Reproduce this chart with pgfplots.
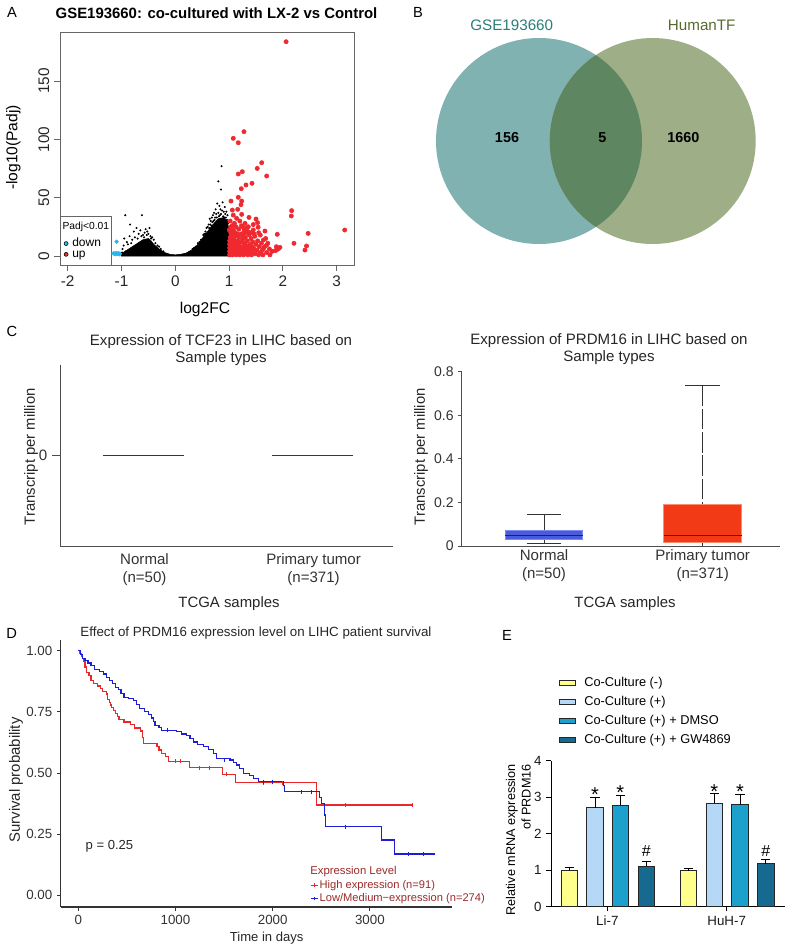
\documentclass[border=0pt]{standalone}
\usepackage{fontspec}
\setmainfont{Liberation Sans}
\usepackage{pgfplots}
\pgfplotsset{compat=1.18}
\newcommand\fsz[2]{\fontsize{#1}{#2}\selectfont}
\definecolor{ared}{HTML}{F0282F}
\definecolor{ablue}{HTML}{29B6E8}
\definecolor{vennL}{HTML}{7FB2B1}
\definecolor{vennR}{HTML}{9EAF88}
\definecolor{vennO}{HTML}{5E8660}
\definecolor{vtxtL}{HTML}{2A7E7A}
\definecolor{vtxtR}{HTML}{56692E}
\definecolor{cnorm}{HTML}{2F3163}
\definecolor{ctum}{HTML}{5A2A2A}
\definecolor{nblue}{HTML}{4A5BDC}
\definecolor{nbedge}{HTML}{7C8BEF}
\definecolor{tred}{HTML}{F23B16}
\definecolor{tredge}{HTML}{FF8C6E}
\definecolor{dred}{HTML}{E8282B}
\definecolor{dblue}{HTML}{1E1ED8}
\definecolor{dlegc}{HTML}{9A2A2A}
\definecolor{eyel}{HTML}{FFFF8C}
\definecolor{elb}{HTML}{B5D8F7}
\definecolor{eteal}{HTML}{1BA1CC}
\definecolor{edark}{HTML}{166A8F}
\pgfplotsset{
 aleg/.style={legend image code/.code={\fill[##1] (2pt,0pt) circle[radius=1.5pt];}},
 dleg/.style={legend image code/.code={\draw[##1] (0pt,0pt)--(5.25pt,0pt); \draw[##1] (2.6pt,-1.4pt)--(2.6pt,1.4pt);}},
 eleg/.style={legend image code/.code={\draw[##1] (0pt,-2.15pt) rectangle (12.5pt,2.15pt);}},
 ebar/.style={ybar, bar width=12.4pt, bar shift=0pt, draw=black!85, line width=0.6pt, forget plot,
  error bars/y dir=plus, error bars/y explicit, error bars/error bar style={line width=0.6pt, black},
  error bars/error mark options={rotate=90, black, mark size=3.4pt, line width=0.6pt}},
}
\begin{document}
\begin{tikzpicture}
\path[use as bounding box] (0pt,0pt) rectangle (589.5pt,-711.75pt);

%%%%%%%%%%%%%%%% PANEL A
\begin{axis}[
 scale only axis, width=220.7pt, height=174.2pt, at={(45pt,-198.75pt)}, anchor=south west,
 xmin=-2.143, xmax=3.327, ymin=-7.7, ymax=191.4,
 xtick={-2,-1,0,1,2,3}, ytick={0,50,100,150},
 tick pos=left, tick align=outside, major tick length=4.5pt,
 axis line style={draw=black!60, line width=0.6pt},
 tick style={draw=black!60, line width=0.6pt},
 tick label style={font=\fsz{11.5}{13}, text=black!85},
 yticklabel style={rotate=90, anchor=south},
 /pgf/number format/assume math mode=true,
 legend style={at={(0.0122,0.1167)}, anchor=north west, draw=none, fill=none, inner sep=0pt,
   font=\fsz{9}{9}, row sep=0pt, /tikz/column sep=2.9pt,
   nodes={inner sep=0pt, text height=6.3pt, text depth=1.8pt}},
 legend cell align=left,
]
\addplot[fill=black, draw=black, line width=0.4pt, forget plot] coordinates {
(-1.0,0) (-1.0,2) (-0.9,5) (-0.8,8) (-0.7,11) (-0.6,14) (-0.5,15) (-0.45,13) (-0.4,10) (-0.3,6)
(-0.2,3) (-0.1,1.5) (0,1) (0.1,1.5) (0.2,2.5) (0.3,5) (0.4,9) (0.5,15) (0.6,21) (0.7,27)
(0.8,32) (0.9,33) (0.97,30) (1.0,20) (1.0,0)} -- cycle;
\addplot[only marks, mark=*, mark size=0.55pt, black, forget plot] coordinates {
(-0.93,35) (-0.62,35) (-0.84,27) (-0.77,21) (-0.72,24) (-0.95,15) (-0.9,12) (-0.85,17) (-0.8,14)
(-0.75,16) (-0.68,19) (-0.65,22) (-0.6,18) (-0.57,20) (-0.55,23) (-0.52,21) (-0.5,19) (-0.48,24)
(-0.46,17) (-0.43,16) (-0.4,14) (-0.37,11) (-0.33,9) (-0.3,8) (-0.27,6) (-0.22,4) (-0.98,6)
(-0.96,9) (-0.88,10) (-0.82,11) (-0.7,15) (-0.63,17) (-0.58,16) (-0.53,18) (-0.45,15) (-0.92,4) (-0.99,3)
(0.86,77) (0.80,64) (0.85,57) (0.78,45) (0.82,43) (0.88,46) (0.92,42) (0.95,38) (0.97,35) (0.75,40)
(0.72,37) (0.7,35) (0.68,33) (0.66,30) (0.64,32) (0.62,27) (0.6,25) (0.58,24) (0.56,21) (0.54,19)
(0.52,18) (0.48,14) (0.45,12) (0.42,11) (0.38,8) (0.35,7) (0.32,6) (0.28,4) (0.25,3) (0.9,38)
(0.93,36) (0.84,40) (0.76,36) (0.74,33) (0.8,37) (0.83,35) (0.87,39) (0.91,33) (0.96,31) (0.98,28)
(0.99,25) (0.79,30) (0.71,30) (0.67,26) (0.63,24) (0.57,19) (0.65,27) (0.69,29) (0.73,31) (0.77,33)
(0.81,34) (0.85,36) (0.89,34) (0.94,33)};
\addplot[only marks, mark=*, mark size=1.4pt, mark options={fill=ablue, draw=ablue}, forget plot] coordinates {
(-1.03,2) (-1.05,2.3) (-1.07,2) (-1.09,2.5) (-1.11,2.2) (-1.13,2) (-1.15,2.3) (-1.04,1.5) (-1.1,1.6) (-1.09,12.3)};
\addplot[only marks, mark=*, mark size=1.6pt, mark options={fill=ared, draw=ared}, forget plot] coordinates {
(2.06,183.7) (1.277,106.6) (1.078,100.9) (1.171,97.1) (1.606,80) (1.524,75.1) (1.699,68.6) (1.246,72.3)
(1.171,70.3) (1.426,62.3) (1.314,60.9) (1.227,57.7) (1.035,47.1) (1.171,50.3) (1.234,47.1) (1.221,44)
(1.06,39.4) (1.16,40) (2.163,38.9) (2.157,34.3) (1.234,35.7) (1.37,33.1) (1.50,31.7) (1.53,28.6)
(1.54,24.7) (1.667,21.4) (1.896,18.6) (2.47,19.4) (3.149,22.3) (2.206,10.9) (2.44,8.6) (2.41,5.1)
(1.946,7.4) (1.90,5.7) (1.86,4.6) (1.92,6.5) (1.88,8) (1.078,35.1) (1.14,32.3) (1.296,28) (1.357,25.1)
(1.45,22.3) (1.636,13.7) (1.699,9.4) (1.64,6.6) (1.004,22.3) (1.04,18) (1.02,30) (1.10,28) (1.2,30)
(1.25,25) (1.3,20) (1.45,27) (1.58,18) (1.75,6) (1.8,4) (1.68,15)
(1.01,1) (1.01,4) (1.01,7) (1.01,10) (1.01,13) (1.02,16) (1.03,2) (1.04,5) (1.04,9) (1.05,12) (1.05,15)
(1.06,1) (1.07,3) (1.07,7) (1.08,10) (1.09,14) (1.09,19) (1.1,2) (1.11,5) (1.11,8) (1.12,12) (1.12,17)
(1.13,1) (1.14,4) (1.15,7) (1.15,10) (1.16,13) (1.17,2) (1.18,5) (1.18,16) (1.19,9) (1.2,1) (1.21,3)
(1.21,12) (1.22,6) (1.23,19) (1.24,2) (1.25,8) (1.25,14) (1.26,4) (1.27,1) (1.28,11) (1.29,6) (1.3,16)
(1.31,2) (1.32,9) (1.33,4) (1.34,13) (1.35,1) (1.36,7) (1.37,18) (1.38,3) (1.39,10) (1.4,5) (1.41,15)
(1.42,1) (1.43,8) (1.44,12) (1.45,3) (1.47,6) (1.48,17) (1.49,2) (1.5,10) (1.52,5) (1.53,13) (1.55,1)
(1.56,8) (1.58,3) (1.6,11) (1.62,5) (1.63,1) (1.66,8) (1.7,3) (1.72,11) (1.76,1) (1.08,22) (1.13,25)
(1.18,23) (1.23,26) (1.28,22) (1.35,21) (1.06,26) (1.11,20) (1.16,19) (1.26,17) (1.32,24) (1.4,20)
(1.46,19) (1.55,20) (1.03,20) (1.03,25)};
\addlegendimage{aleg, fill=ablue}\addlegendentry{down}
\addlegendimage{aleg, fill=ared}\addlegendentry{up}
\draw[black!60, line width=0.5pt] (rel axis cs:0,0) rectangle (rel axis cs:0.1757,0.211);
\node[anchor=west, font=\fsz{7.7}{9}, inner sep=0pt] at (rel axis cs:0.0078,0.1649) {Padj<0.01};
\end{axis}
\node[font=\fsz{11}{13}] at (9pt,-9pt) {A};
\node[font=\bfseries\fsz{11.2}{13}] at (162.4pt,-9.75pt) {GSE193660: co-cultured with LX-2 vs Control};
\node[font=\fsz{11.7}{13}, rotate=90] at (10pt,-110.6pt) {-log10(Padj)};
\node[font=\fsz{11.7}{13}] at (153.75pt,-231.75pt) {log2FC};

%%%%%%%%%%%%%%%% PANEL B
\begin{axis}[scale only axis, width=297pt, height=232.5pt, at={(292.5pt,-232.5pt)}, anchor=south west,
 xmin=390, xmax=786, ymin=0, ymax=310, y dir=reverse, hide axis]
\fill[vennL] (axis cs:539,141) circle[radius=77.25pt];
\fill[vennR] (axis cs:652.7,141) circle[radius=77.25pt];
\begin{scope}
\clip (axis cs:539,141) circle[radius=77.25pt];
\fill[vennO] (axis cs:652.7,141) circle[radius=77.25pt];
\end{scope}
\node[font=\bfseries\fsz{10.8}{12}] at (axis cs:507,138) {156};
\node[font=\bfseries\fsz{10.8}{12}] at (axis cs:602.3,138) {5};
\node[font=\bfseries\fsz{10.8}{12}] at (axis cs:683.3,138) {1660};
\end{axis}
\node[font=\fsz{11}{13}] at (313.5pt,-9pt) {B};
\node[font=\fsz{11.4}{13}, text=vtxtL] at (383.8pt,-18.75pt) {GSE193660};
\node[font=\fsz{11.4}{13}, text=vtxtR] at (526.3pt,-18.75pt) {HumanTF};

%%%%%%%%%%%%%%%% PANEL C left
\begin{axis}[scale only axis, width=249.75pt, height=135.75pt, at={(45pt,-409.5pt)}, anchor=south west,
 xmin=0.5, xmax=2.47, ymin=-1, ymax=1, axis lines=left,
 axis line style={-, draw=black!70, line width=0.7pt},
 xtick={1,2}, xticklabels={{Normal\\(n=50)},{Primary tumor\\(n=371)}},
 xticklabel style={align=center, font=\fsz{11.3}{13.5}, text=black!80, yshift=3.5pt},
 xtick style={draw=none},
 ytick={0}, ytick style={draw=black!70, line width=0.7pt}, tick align=outside, major tick length=6pt,
 yticklabel style={font=\fsz{11.3}{13.5}, text=black!80},
 /pgf/number format/assume math mode=true]
\addplot[draw=cnorm, line width=1pt] coordinates {(0.757,0) (1.234,0)};
\addplot[draw=ctum, line width=1pt] coordinates {(1.754,0) (2.234,0)};
\end{axis}
\node[font=\fsz{11}{13}] at (9pt,-248.25pt) {C};
\node[font=\fsz{11.3}{12.5}, align=center, text=black!85] at (165.75pt,-262.5pt) {Expression of TCF23 in LIHC based on\\Sample types};
\node[font=\fsz{11.1}{13}, rotate=90, text=black!85] at (23.25pt,-342.5pt) {Transcript per million};
\node[font=\fsz{11.2}{13}, text=black!85] at (171.75pt,-452.5pt) {TCGA samples};

%%%%%%%%%%%%%%%% PANEL C right
\begin{axis}[scale only axis, width=238.7pt, height=130.7pt, at={(346.3pt,-409.5pt)}, anchor=south west,
 xmin=0.4814, xmax=2.487, ymin=0, ymax=0.8, axis lines=left,
 axis line style={-, draw=black!70, line width=0.7pt},
 xtick={1,2}, xticklabels={{Normal\\(n=50)},{Primary tumor\\(n=371)}},
 xticklabel style={align=center, font=\fsz{11.3}{13.5}, text=black!80, yshift=3.5pt},
 xtick style={draw=none},
 ytick={0,0.2,0.4,0.6,0.8}, yticklabels={0,0.2,0.4,0.6,0.8},
 ytick style={draw=black!70, line width=0.7pt}, tick align=outside, major tick length=2.6pt,
 yticklabel style={font=\fsz{10.5}{12}, text=black!80},
 /pgf/number format/assume math mode=true]
% whiskers
\addplot[draw=black!80, line width=0.8pt] coordinates {(1,0.144) (1,0.073)};
\addplot[draw=black!80, line width=0.8pt] coordinates {(1,0.028) (1,0.011)};
\addplot[draw=black!80, line width=0.8pt] coordinates {(0.89,0.144) (1.11,0.144)};
\addplot[draw=black!80, line width=0.8pt] coordinates {(0.89,0.011) (1.11,0.011)};
\addplot[draw=black!80, line width=0.8pt, dash pattern=on 15.5pt off 2pt] coordinates {(2,0.738) (2,0.191)};
\addplot[draw=black!80, line width=0.8pt] coordinates {(2,0.015) (2,0)};
\addplot[draw=black!80, line width=0.8pt] coordinates {(1.89,0.738) (2.11,0.738)};
% boxes (quartiles)
\addplot[fill=nblue, draw=nbedge, line width=0.8pt] coordinates {(0.755,0.028) (1.245,0.028) (1.245,0.073) (0.755,0.073)} -- cycle;
\addplot[fill=tred, draw=tredge, line width=0.8pt] coordinates {(1.755,0.015) (2.245,0.015) (2.245,0.191) (1.755,0.191)} -- cycle;
% medians
\addplot[draw=black!85, line width=0.9pt] coordinates {(0.755,0.047) (1.245,0.047)};
\addplot[draw=black!85, line width=0.9pt] coordinates {(1.755,0.050) (2.245,0.050)};
\end{axis}
\node[font=\fsz{11.3}{12.5}, align=center, text=black!85] at (456.75pt,-261.75pt) {Expression of PRDM16 in LIHC based on\\Sample types};
\node[font=\fsz{11.1}{13}, rotate=90, text=black!85] at (315.75pt,-342.5pt) {Transcript per million};
\node[font=\fsz{11.2}{13}, text=black!85] at (468.75pt,-452.5pt) {TCGA samples};

%%%%%%%%%%%%%%%% PANEL D
\begin{axis}[scale only axis, width=293.25pt, height=200.25pt, at={(45.5pt,-680.25pt)}, anchor=south west,
 xmin=-181, xmax=3841, ymin=-0.048, ymax=1.044, axis lines=left,
 axis line style={-, draw=black!80, line width=0.8pt},
 xtick={0,1000,2000,3000}, xticklabels={0,1000,2000,3000},
 ytick={0,0.25,0.5,0.75,1}, yticklabels={0.00,0.25,0.50,0.75,1.00},
 tick style={draw=black!80, line width=0.7pt}, tick align=outside, major tick length=2.8pt,
 tick label style={font=\fsz{10}{12}, text=black!80},
 /pgf/number format/assume math mode=true,
 legend style={at={(0.6376,0.1019)}, anchor=north west, draw=none, fill=none, inner sep=0pt,
   font=\fsz{8.35}{9}, text=dlegc, row sep=2.2pt, /tikz/column sep=1pt,
   nodes={inner sep=0pt, text height=6pt, text depth=1.8pt}},
 legend cell align=left]
\addplot[const plot, draw=dred, line width=0.9pt, forget plot] coordinates {
(0,1) (15,0.989) (30,0.978) (45,0.967) (60,0.956) (70,0.934) (85,0.912) (110,0.90) (130,0.878)
(160,0.867) (200,0.856) (230,0.845) (250,0.834) (290,0.823) (300,0.80) (320,0.789) (330,0.778)
(345,0.767) (360,0.755) (380,0.744) (400,0.732) (420,0.72) (470,0.709) (540,0.697) (580,0.684)
(640,0.672) (660,0.646) (670,0.62) (810,0.607) (830,0.594) (860,0.58) (900,0.566) (930,0.548)
(1145,0.522) (1480,0.495) (1620,0.46) (2450,0.369) (3435,0.369)};
\addplot[const plot, draw=dblue, line width=0.9pt, forget plot] coordinates {
(0,1) (20,0.985) (40,0.97) (70,0.96) (100,0.95) (130,0.94) (170,0.925) (220,0.915) (260,0.905)
(290,0.89) (320,0.88) (350,0.865) (380,0.85) (410,0.84) (440,0.825) (470,0.81) (520,0.805)
(570,0.795) (600,0.78) (630,0.765) (680,0.75) (720,0.74) (750,0.725) (770,0.71) (790,0.695)
(830,0.685) (860,0.675) (1010,0.67) (1060,0.66) (1110,0.655) (1150,0.64) (1185,0.627) (1230,0.618)
(1285,0.607) (1340,0.595) (1390,0.58) (1420,0.56) (1560,0.553) (1600,0.543) (1630,0.533) (1660,0.52)
(1700,0.499) (1760,0.49) (1800,0.478) (1850,0.465) (2110,0.45) (2125,0.424) (2485,0.40) (2505,0.376)
(2535,0.328) (2540,0.281) (3120,0.226) (3255,0.169) (3670,0.169)};
\addplot[only marks, mark=|, mark size=1.5pt, dred, line width=0.6pt, forget plot] coordinates {
(1000,0.548) (1050,0.548) (1250,0.522) (1350,0.522) (1520,0.495) (1900,0.46) (2100,0.46) (2750,0.369) (3435,0.369)};
\addplot[only marks, mark=|, mark size=1.5pt, dblue, line width=0.6pt, forget plot] coordinates {
(920,0.675) (1500,0.553) (1900,0.465) (2000,0.465) (2300,0.424) (2400,0.424) (2750,0.281) (3400,0.169) (3550,0.169)};
\addlegendimage{dleg, draw=dred, line width=0.8pt}\addlegendentry{High expression (n=91)}
\addlegendimage{dleg, draw=dblue, line width=0.8pt}\addlegendentry{Low/Medium−expression (n=274)}
\node[anchor=west, font=\fsz{8.5}{9}, text=dlegc, inner sep=0pt] at (axis cs:2384,0.095) {Expression Level};
\node[font=\fsz{9.8}{12}, text=black!85] at (axis cs:321,0.2015) {p = 0.25};
\end{axis}
\node[font=\fsz{11}{13}] at (8.8pt,-475pt) {D};
\node[font=\fsz{10}{12}, text=black!85] at (192pt,-475pt) {Effect of PRDM16 expression level on LIHC patient survival};
\node[font=\fsz{11.2}{13}, rotate=90, text=black!85] at (12pt,-585pt) {Survival probability};
\node[font=\fsz{9.8}{12}, text=black!85] at (200pt,-703.7pt) {Time in days};

%%%%%%%%%%%%%%%% PANEL E
\begin{axis}[scale only axis, width=175.5pt, height=109.3pt, at={(413.25pt,-680pt)}, anchor=south west,
 xmin=551, xmax=785, ymin=0, ymax=4, axis lines=left,
 axis line style={-, draw=black, line width=0.7pt},
 xtick={607.3,726.7}, xticklabels={Li-7,HuH-7},
 ytick={0,1,2,3,4},
 tick style={draw=black, line width=0.7pt}, tick align=outside, major tick length=3.5pt,
 tick label style={font=\fsz{10}{12}, text=black!90},
 /pgf/number format/assume math mode=true,
 clip=false,
 legend style={at={(0.0312,1.5786)}, anchor=north west, draw=none, fill=none, inner sep=0pt,
   font=\fsz{9.6}{11}, row sep=5.25pt, /tikz/column sep=6.2pt,
   nodes={inner sep=0pt, text height=7pt, text depth=2pt}},
 legend cell align=left]
\addplot[ebar, fill=eyel] coordinates {(569.2,0.995) +- (0,0.095) (688.3,0.99) +- (0,0.06)};
\addplot[ebar, fill=elb] coordinates {(595,2.72) +- (0,0.29) (714.3,2.84) +- (0,0.26)};
\addplot[ebar, fill=eteal] coordinates {(620.3,2.78) +- (0,0.27) (740,2.80) +- (0,0.28)};
\addplot[ebar, fill=edark] coordinates {(646.3,1.11) +- (0,0.12) (765.7,1.175) +- (0,0.135)};
\addlegendimage{eleg, fill=eyel, draw=black!85, line width=0.6pt}\addlegendentry{Co-Culture (-)}
\addlegendimage{eleg, fill=elb, draw=black!85, line width=0.6pt}\addlegendentry{Co-Culture (+)}
\addlegendimage{eleg, fill=eteal, draw=black!85, line width=0.6pt}\addlegendentry{Co-Culture (+) + DMSO}
\addlegendimage{eleg, fill=edark, draw=black!85, line width=0.6pt}\addlegendentry{Co-Culture (+) + GW4869}
\node[font=\fsz{15}{15}] at (axis cs:595,3.08) {*};
\node[font=\fsz{15}{15}] at (axis cs:620.3,3.13) {*};
\node[font=\fsz{15}{15}] at (axis cs:714.3,3.17) {*};
\node[font=\fsz{15}{15}] at (axis cs:740,3.15) {*};
\node[font=\fsz{12}{12}] at (axis cs:646.3,1.54) {\#};
\node[font=\fsz{12}{12}] at (axis cs:765.7,1.52) {\#};
\end{axis}
\node[font=\fsz{11}{13}] at (380.25pt,-476.25pt) {E};
\node[font=\fsz{9.5}{11.5}, rotate=90, align=right] at (388.75pt,-630pt) {Relative mRNA expression\\of PRDM16};

\end{tikzpicture}
\end{document}
